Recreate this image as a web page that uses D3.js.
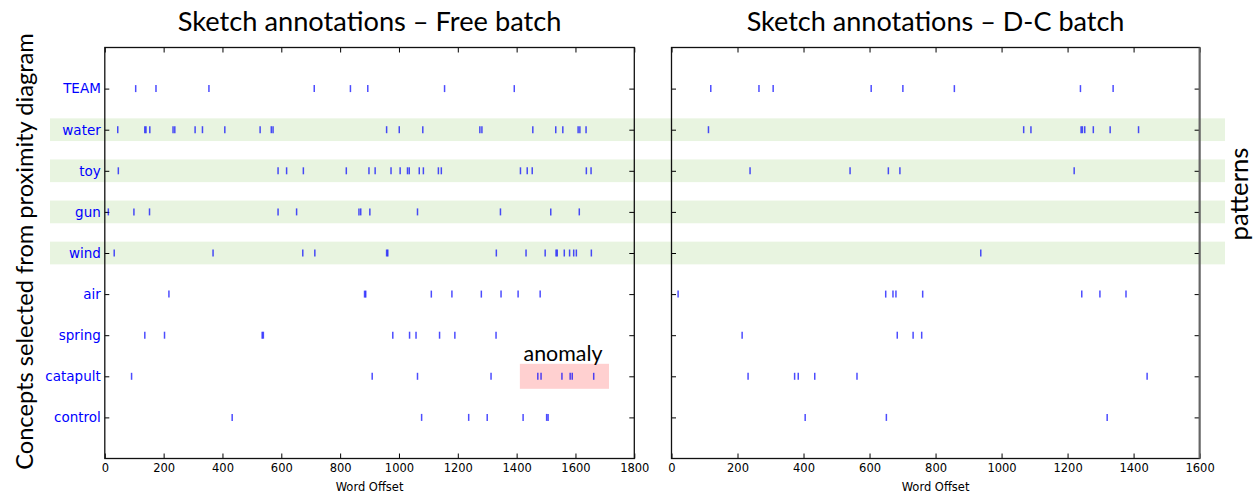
<!DOCTYPE html>
<html><head><meta charset="utf-8">
<script src="https://cdn.jsdelivr.net/npm/d3@7"></script>
<style>body{margin:0;background:#fff}</style>
</head><body><svg id="chart" width="1255" height="494"></svg>
<script>
// ---------------- data ----------------
const concepts = ["TEAM","water","toy","gun","wind","air","spring","catapult","control"];
const patternConcepts = ["water","toy","gun","wind"];
const titles = ["Sketch annotations \u2013 Free batch", "Sketch annotations \u2013 D-C batch"];
const xLabel = "Word Offset";
const yLabel = "Concepts selected from proximity diagram";
const sideLabel = "patterns";
const anomalyLabel = "anomaly";
const anomalyConcept = "catapult";
const anomalyRange = [1411, 1714];
const xTicksFree = [0,200,400,600,800,1000,1200,1400,1600,1800];
const xTicksDC = [0,200,400,600,800,1000,1200,1400,1600];

// Free batch word offsets
const freeTEAM = [105,174,354,712,835,894,1155,1392];
const freeWater = [44,136,140,153,232,238,307,332,408,528,566,572,958,1001,1081,1275,1282,1455,1533,1557,1609,1615,1636];
const freeToy = [46,589,618,675,821,898,919,973,1004,1029,1035,1069,1083,1134,1144,1413,1436,1453,1637,1653];
const freeGun = [12,99,152,589,652,864,870,901,1063,1345,1516,1613];
const freeWind = [32,368,673,714,958,962,1331,1432,1497,1534,1538,1562,1580,1594,1603,1654];
const freeAir = [218,883,887,1110,1180,1280,1347,1405,1480];
const freeSpring = [136,203,535,539,979,1036,1058,1138,1190,1330];
const freeCatapult = [91,909,1063,1313,1472,1483,1554,1582,1589,1662];
const freeControl = [433,1077,1237,1300,1422,1502,1507];

// D-C batch word offsets
const dcTEAM = [119,265,308,605,701,857,1239,1338];
const dcWater = [112,1067,1089,1241,1245,1252,1278,1329,1415];
const dcToy = [238,541,657,692,1220];
const dcGun = [];
const dcWind = [937];
const dcAir = [20,649,671,680,761,1243,1298,1377];
const dcSpring = [214,684,732,758];
const dcCatapult = [232,373,384,434,562,1441];
const dcControl = [405,651,1320];

const freeBatch = [freeTEAM,freeWater,freeToy,freeGun,freeWind,freeAir,freeSpring,freeCatapult,freeControl];
const dcBatch = [dcTEAM,dcWater,dcToy,dcGun,dcWind,dcAir,dcSpring,dcCatapult,dcControl];

// ---------------- drawing ----------------
const svg = d3.select("#chart");
const TOP = 47.5, BOTTOM = 458.5;
const y = d3.scaleLinear().domain([0,10]).range([BOTTOM, TOP]);
const rowPos = c => concepts.length - concepts.indexOf(c); // TEAM = 9 ... control = 1

const panels = [
  {title: titles[0], data: freeBatch, x: d3.scaleLinear().domain([0,1800]).range([104.8,634.3]), ticks: xTicksFree, labels: true},
  {title: titles[1], data: dcBatch,   x: d3.scaleLinear().domain([0,1600]).range([671.5,1199.6]), ticks: xTicksDC, labels: false}
];

function fitText(sel, target){
  const w = sel.node().getComputedTextLength();
  const fs = parseFloat(sel.attr("font-size"));
  sel.attr("font-size", fs * target / w);
}

// pattern bands (behind everything)
svg.append("g").selectAll("rect").data(patternConcepts).join("rect")
  .attr("x", 50).attr("width", 1175)
  .attr("y", d => y(rowPos(d)) - 11.35).attr("height", 22.7)
  .attr("fill", "#e8f4e0");

// anomaly box
const ax0 = panels[0].x;
svg.append("rect")
  .attr("x", ax0(anomalyRange[0])).attr("width", ax0(anomalyRange[1]) - ax0(anomalyRange[0]))
  .attr("y", y(rowPos(anomalyConcept)) - 12.5).attr("height", 25)
  .attr("fill", "#ffd0d0");

panels.forEach((p, pi) => {
  const g = svg.append("g");
  const [x0, x1] = p.x.range();
  const yv = d3.range(1, 10);

  const styleAxis = a => {
    a.select(".domain").remove();
    a.selectAll(".tick line").attr("stroke", "#000").attr("stroke-width", 1);
  };

  const bottom = g.append("g").attr("transform", `translate(0,${BOTTOM})`)
    .call(d3.axisBottom(p.x).tickValues(p.ticks).tickSizeInner(-5).tickSizeOuter(0).tickPadding(5)
      .tickFormat(d3.format("d")));
  styleAxis(bottom);
  bottom.selectAll("text").attr("font-family", "DejaVu Sans").attr("font-size", 11.5).attr("fill", "#000");

  const top = g.append("g").attr("transform", `translate(0,${TOP})`)
    .call(d3.axisTop(p.x).tickValues(p.ticks).tickSizeInner(-5).tickSizeOuter(0).tickFormat(() => ""));
  styleAxis(top);

  const left = g.append("g").attr("transform", `translate(${x0},0)`)
    .call(d3.axisLeft(y).tickValues(yv).tickSizeInner(-4.5).tickSizeOuter(0).tickPadding(4)
      .tickFormat(v => p.labels ? concepts[concepts.length - v] : ""));
  styleAxis(left);
  left.selectAll("text").attr("font-family", "DejaVu Sans").attr("font-size", 13.5).attr("fill", "#0000ff");

  const right = g.append("g").attr("transform", `translate(${x1},0)`)
    .call(d3.axisRight(y).tickValues(yv).tickSizeInner(-5).tickSizeOuter(0).tickFormat(() => ""));
  styleAxis(right);

  // frame
  g.append("rect").attr("x", x0).attr("y", TOP).attr("width", x1 - x0).attr("height", BOTTOM - TOP)
    .attr("fill", "none").attr("stroke", "#111").attr("stroke-width", 1.3);
  if (pi === 1) {
    g.append("line").attr("x1", x1).attr("x2", x1).attr("y1", TOP).attr("y2", BOTTOM)
      .attr("stroke", "#666").attr("stroke-width", 2);
  }

  // event marks
  const rows = concepts.map((c, i) => ({c, vals: p.data[i]}));
  g.append("g").selectAll("g").data(rows).join("g")
    .each(function(r){
      const cy = y(rowPos(r.c));
      d3.select(this).selectAll("line").data(r.vals).join("line")
        .attr("x1", d => p.x(d)).attr("x2", d => p.x(d))
        .attr("y1", cy - 3.5).attr("y2", cy + 3.5)
        .attr("stroke", "#0000ff").attr("stroke-width", 1.5).attr("stroke-opacity", 0.7);
    });

  // title
  const t = svg.append("text").attr("x", (x0 + x1) / 2).attr("y", 31)
    .attr("text-anchor", "middle").attr("font-family", "Lato").attr("font-size", 26)
    .attr("fill", "#000").text(p.title);
  fitText(t, pi === 0 ? 384 : 378);

  // x label
  svg.append("text").attr("x", (x0 + x1) / 2).attr("y", 491)
    .attr("text-anchor", "middle").attr("font-family", "DejaVu Sans").attr("font-size", 11.5)
    .attr("fill", "#000").text(xLabel);
});

// y label
const yl = svg.append("text").attr("transform", "translate(33,251.5) rotate(-90)")
  .attr("text-anchor", "middle").attr("font-family", "Lato").attr("font-size", 22)
  .attr("fill", "#000").text(yLabel);
fitText(yl, 437);

// side label
const sl = svg.append("text").attr("transform", "translate(1248,194) rotate(-90)")
  .attr("text-anchor", "middle").attr("font-family", "Lato").attr("font-size", 22)
  .attr("fill", "#000").text(sideLabel);
fitText(sl, 93);

// anomaly label
const al = svg.append("text").attr("x", 563).attr("y", 361)
  .attr("text-anchor", "middle").attr("font-family", "Lato").attr("font-size", 20)
  .attr("fill", "#000").text(anomalyLabel);
fitText(al, 79);
</script></body></html>
